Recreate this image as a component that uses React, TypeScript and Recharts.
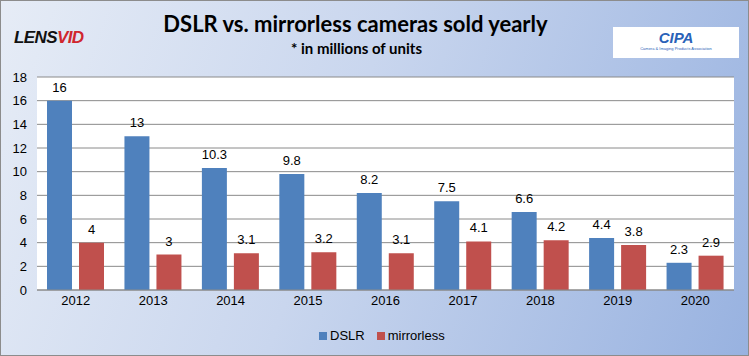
import React from "react";
import { BarChart, Bar, XAxis, YAxis, CartesianGrid, LabelList } from "recharts";

const years = ["2012", "2013", "2014", "2015", "2016", "2017", "2018", "2019", "2020"];
const dslr = [16, 13, 10.3, 9.8, 8.2, 7.5, 6.6, 4.4, 2.3];
const mirrorless = [4, 3, 3.1, 3.2, 3.1, 4.1, 4.2, 3.8, 2.9];
const yTicks = [0, 2, 4, 6, 8, 10, 12, 14, 16, 18];

const data = years.map((y, i) => ({ year: y, DSLR: dslr[i], mirrorless: mirrorless[i] }));

const tickFont = { fontFamily: "Liberation Sans, Arial, sans-serif", fontSize: 13, fill: "#000" };

export default function App() {
  return (
    <div
      style={{
        position: "absolute",
        left: 0,
        top: 0,
        width: 747,
        height: 354,
        border: "1px solid #8c8c8c",
        background: "linear-gradient(110deg, #e6ecf6 0%, #c9d6ee 45%, #98b2e0 100%)",
        overflow: "hidden",
      }}
    >
      <div
        style={{
          position: "absolute",
          left: 13,
          top: 27,
          fontFamily: "Liberation Sans, Arial, sans-serif",
          fontWeight: 900,
          fontStyle: "italic",
          fontSize: 17,
          letterSpacing: -0.6,
        }}
      >
        <span style={{ color: "#111" }}>LENS</span>
        <span style={{ color: "#d0262e" }}>VID</span>
      </div>
      <div
        style={{
          position: "absolute",
          left: 0,
          width: 709,
          top: 9,
          textAlign: "center",
          fontFamily: "Lato, sans-serif",
          fontWeight: 700,
          fontSize: 22,
          color: "#000",
        }}
      >
        DSLR vs. mirrorless cameras sold yearly
      </div>
      <div
        style={{
          position: "absolute",
          left: 0,
          width: 711,
          top: 38,
          textAlign: "center",
          fontFamily: "Lato, sans-serif",
          fontWeight: 700,
          fontSize: 15,
          color: "#000",
        }}
      >
        * in millions of units
      </div>
      <div
        style={{
          position: "absolute",
          left: 612,
          top: 26,
          width: 126,
          height: 31,
          background: "#fff",
          textAlign: "center",
          fontFamily: "Liberation Sans, Arial, sans-serif",
        }}
      >
        <div style={{ fontSize: 15, fontStyle: "italic", fontWeight: 700, color: "#2a62b8", marginTop: 3, lineHeight: "16px" }}>
          CIPA
        </div>
        <div style={{ fontSize: 4, color: "#2a62b8", lineHeight: "6px" }}>Camera &amp; Imaging Products Association</div>
      </div>
      <div style={{ position: "absolute", left: 0, top: 0 }}>
        <BarChart
          width={749}
          height={356}
          data={data}
          margin={{ top: 76, right: 16, bottom: 37, left: 0 }}
          barGap={7}
          barSize={25}
        >
          <CartesianGrid vertical={false} stroke="#8a8a8a" fill="#ffffff" />
          <XAxis
            dataKey="year"
            tick={tickFont}
            tickLine={false}
            tickSize={0}
            tickMargin={6}
            axisLine={{ stroke: "#8a8a8a" }}
            height={30}
          />
          <YAxis
            domain={[0, 18]}
            ticks={yTicks}
            tick={tickFont}
            tickLine={false}
            tickSize={0}
            tickMargin={10}
            axisLine={false}
            width={36}
            interval={0}
          />
          <Bar dataKey="DSLR" fill="#4f81bd" isAnimationActive={false}>
            <LabelList dataKey="DSLR" position="top" offset={9} style={tickFont} />
          </Bar>
          <Bar dataKey="mirrorless" fill="#c0504d" isAnimationActive={false}>
            <LabelList dataKey="mirrorless" position="top" offset={9} style={tickFont} />
          </Bar>
        </BarChart>
      </div>
      <div
        style={{
          position: "absolute",
          left: 318,
          top: 327,
          display: "flex",
          alignItems: "center",
          fontFamily: "Liberation Sans, Arial, sans-serif",
          fontSize: 13,
          color: "#000",
        }}
      >
        <span style={{ width: 8, height: 8, background: "#4f81bd", display: "inline-block", marginRight: 3 }} />
        <span style={{ marginRight: 12 }}>DSLR</span>
        <span style={{ width: 8, height: 8, background: "#c0504d", display: "inline-block", marginRight: 3 }} />
        <span>mirrorless</span>
      </div>
    </div>
  );
}
